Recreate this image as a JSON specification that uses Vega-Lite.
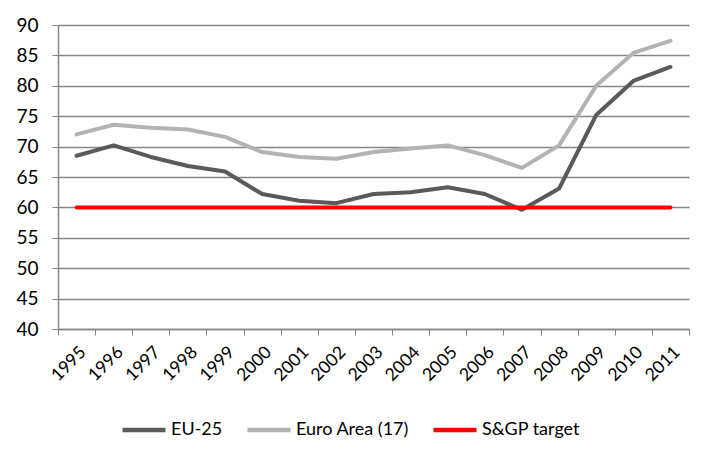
{
  "$schema": "https://vega.github.io/schema/vega-lite/v6.json",
  "width": 631,
  "height": 304,
  "autosize": {"type": "none"},
  "padding": {"left": 58, "top": 25, "right": 24, "bottom": 129},
  "background": "white",
  "config": {
    "font": "Lato",
    "view": {"stroke": null}
  },
  "data": {
    "values": [
      {"year": "1995", "series": "EU-25", "value": 68.5},
      {"year": "1996", "series": "EU-25", "value": 70.2},
      {"year": "1997", "series": "EU-25", "value": 68.3},
      {"year": "1998", "series": "EU-25", "value": 66.8},
      {"year": "1999", "series": "EU-25", "value": 65.9},
      {"year": "2000", "series": "EU-25", "value": 62.2},
      {"year": "2001", "series": "EU-25", "value": 61.1},
      {"year": "2002", "series": "EU-25", "value": 60.7},
      {"year": "2003", "series": "EU-25", "value": 62.2},
      {"year": "2004", "series": "EU-25", "value": 62.5},
      {"year": "2005", "series": "EU-25", "value": 63.3},
      {"year": "2006", "series": "EU-25", "value": 62.2},
      {"year": "2007", "series": "EU-25", "value": 59.6},
      {"year": "2008", "series": "EU-25", "value": 63.1},
      {"year": "2009", "series": "EU-25", "value": 75.2},
      {"year": "2010", "series": "EU-25", "value": 80.8},
      {"year": "2011", "series": "EU-25", "value": 83.1},
      {"year": "1995", "series": "Euro Area (17)", "value": 72.0},
      {"year": "1996", "series": "Euro Area (17)", "value": 73.6},
      {"year": "1997", "series": "Euro Area (17)", "value": 73.1},
      {"year": "1998", "series": "Euro Area (17)", "value": 72.8},
      {"year": "1999", "series": "Euro Area (17)", "value": 71.6},
      {"year": "2000", "series": "Euro Area (17)", "value": 69.1},
      {"year": "2001", "series": "Euro Area (17)", "value": 68.3},
      {"year": "2002", "series": "Euro Area (17)", "value": 68.0},
      {"year": "2003", "series": "Euro Area (17)", "value": 69.1},
      {"year": "2004", "series": "Euro Area (17)", "value": 69.7},
      {"year": "2005", "series": "Euro Area (17)", "value": 70.2},
      {"year": "2006", "series": "Euro Area (17)", "value": 68.6},
      {"year": "2007", "series": "Euro Area (17)", "value": 66.5},
      {"year": "2008", "series": "Euro Area (17)", "value": 70.2},
      {"year": "2009", "series": "Euro Area (17)", "value": 80.0},
      {"year": "2010", "series": "Euro Area (17)", "value": 85.4},
      {"year": "2011", "series": "Euro Area (17)", "value": 87.4},
      {"year": "1995", "series": "S&GP target", "value": 60},
      {"year": "1996", "series": "S&GP target", "value": 60},
      {"year": "1997", "series": "S&GP target", "value": 60},
      {"year": "1998", "series": "S&GP target", "value": 60},
      {"year": "1999", "series": "S&GP target", "value": 60},
      {"year": "2000", "series": "S&GP target", "value": 60},
      {"year": "2001", "series": "S&GP target", "value": 60},
      {"year": "2002", "series": "S&GP target", "value": 60},
      {"year": "2003", "series": "S&GP target", "value": 60},
      {"year": "2004", "series": "S&GP target", "value": 60},
      {"year": "2005", "series": "S&GP target", "value": 60},
      {"year": "2006", "series": "S&GP target", "value": 60},
      {"year": "2007", "series": "S&GP target", "value": 60},
      {"year": "2008", "series": "S&GP target", "value": 60},
      {"year": "2009", "series": "S&GP target", "value": 60},
      {"year": "2010", "series": "S&GP target", "value": 60},
      {"year": "2011", "series": "S&GP target", "value": 60}
    ]
  },
  "mark": {"type": "line", "strokeWidth": 4, "strokeCap": "round", "strokeJoin": "round"},
  "encoding": {
    "x": {
      "field": "year",
      "type": "ordinal",
      "scale": {"type": "band", "paddingInner": 0, "paddingOuter": 0},
      "axis": {
        "title": null,
        "labelAngle": -45,
        "labelFontSize": 17.5,
        "labelColor": "black",
        "labelPadding": 8,
        "tickBand": "extent",
        "tickSize": 6,
        "tickColor": "#868686",
        "domainColor": "#868686",
        "domainWidth": 1.5,
        "grid": false
      }
    },
    "y": {
      "field": "value",
      "type": "quantitative",
      "scale": {"domain": [40, 90], "nice": false, "zero": false},
      "axis": {
        "title": null,
        "values": [40, 45, 50, 55, 60, 65, 70, 75, 80, 85, 90],
        "labelFontSize": 19,
        "labelColor": "black",
        "labelPadding": 14,
        "tickSize": 6,
        "tickColor": "#868686",
        "domainColor": "#868686",
        "domainWidth": 1.5,
        "gridColor": "#868686",
        "gridWidth": 1.5,
        "gridOpacity": 1
      }
    },
    "color": {
      "field": "series",
      "type": "nominal",
      "scale": {
        "domain": ["EU-25", "Euro Area (17)", "S&GP target"],
        "range": ["#5a5a5a", "#b3b3b3", "#ff0000"]
      },
      "legend": {
        "title": null,
        "orient": "none",
        "direction": "horizontal",
        "legendX": 62,
        "legendY": 381,
        "symbolType": "stroke",
        "symbolSize": 1850,
        "symbolStrokeWidth": 4.5,
        "symbolOffset": 0,
        "labelFontSize": 18,
        "labelColor": "black",
        "labelOffset": 3,
        "columnPadding": 15
      }
    }
  }
}
